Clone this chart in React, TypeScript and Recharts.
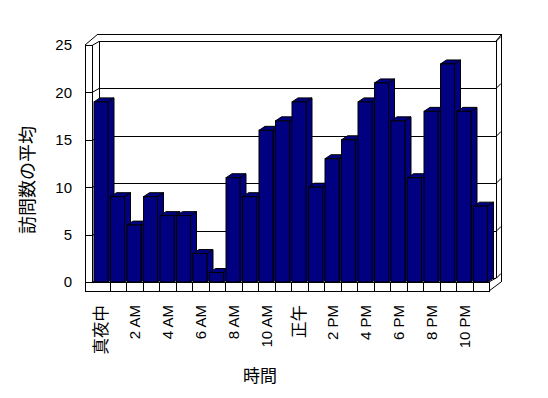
import React from "react";
import { BarChart, Bar, XAxis, YAxis, CartesianGrid } from "recharts";

// hourly average visits
const HOURS = [
  "真夜中", "1 AM", "2 AM", "3 AM", "4 AM", "5 AM", "6 AM", "7 AM", "8 AM", "9 AM", "10 AM", "11 AM",
  "正午", "1 PM", "2 PM", "3 PM", "4 PM", "5 PM", "6 PM", "7 PM", "8 PM", "9 PM", "10 PM", "11 PM",
];
const VISITS = [19, 9, 6, 9, 7, 7, 3, 1, 11, 9, 16, 17, 19, 10, 13, 15, 19, 21, 17, 11, 18, 23, 18, 8];
const Y_TICKS = [0, 5, 10, 15, 20, 25];

const data = HOURS.map((hour, i) => ({ hour, visits: VISITS[i] }));

const W = 548;
const H = 398;
const PLOT = { left: 93, right: 489, top: 45, bottom: 282 };
const FONT = "'Liberation Sans', Arial, 'Noto Sans CJK JP', sans-serif";
const NAVY = "#000080";

// 3d walls drawn behind the chart
function Walls() {
  const { left, right, top, bottom } = PLOT;
  const outerL = left - 8;
  const backL = left + 6;
  const backR = right + 7;
  const rearR = right + 12;
  const band = (right - left) / HOURS.length;
  const floorTicks = HOURS.slice(1).map((_, i) => left + band * (i + 1));
  return (
    <svg width={W} height={H} style={{ position: "absolute", left: 0, top: 0 }}>
      <g stroke="#000" strokeWidth={1} fill="none" shapeRendering="crispEdges">
        <line x1={outerL} y1={top} x2={outerL} y2={bottom + 9} />
        <line x1={left - 1} y1={top} x2={left - 1} y2={bottom} />
        <line x1={outerL} y1={top} x2={left - 1} y2={top} />
        <line x1={backL} y1={top - 4} x2={backL} y2={bottom - 4} />
        <line x1={backL - 1} y1={top - 11} x2={rearR} y2={top - 11} />
        <line x1={backR} y1={top - 4} x2={backR} y2={bottom - 4} />
        <line x1={rearR} y1={top - 11} x2={rearR} y2={bottom} />
        <rect x={outerL} y={bottom} width={right - outerL} height={9} />
        {floorTicks.map((x) => (
          <line key={x} x1={Math.round(x)} y1={bottom} x2={Math.round(x)} y2={bottom + 9} />
        ))}
      </g>
      <g stroke="#000" strokeWidth={1} fill="none">
        <line x1={outerL} y1={top} x2={backL - 1} y2={top - 11} />
        <line x1={backR} y1={top - 4} x2={rearR} y2={top - 10} />
        <line x1={right} y1={bottom + 9} x2={rearR} y2={bottom} />
        <line x1={right} y1={bottom} x2={backR} y2={bottom - 4} />
      </g>
    </svg>
  );
}

function WallGridLine(props: any) {
  const { y1, index } = props;
  const y = Math.round(y1) + 0.5;
  const pts = [
    [PLOT.left - 8, y],
    [PLOT.left - 1, y],
    [PLOT.left + 6, y - 4],
    [PLOT.right + 7, y - 4],
    [PLOT.right + 12, y - 9],
  ]
    .map((p) => p.join(","))
    .join(" ");
  return <polyline key={`g-${index}-${y}`} points={pts} stroke="#000" strokeWidth={1} fill="none" />;
}

function Bar3D(props: any) {
  const { x, y, width, height } = props;
  if (!height || height <= 0) return null;
  const dx = 6;
  const dy = -4;
  const top = `${x},${y} ${x + dx},${y + dy} ${x + width + dx},${y + dy} ${x + width},${y}`;
  const side = `${x + width},${y} ${x + width + dx},${y + dy} ${x + width + dx},${y + height + dy} ${x + width},${y + height}`;
  return (
    <g stroke="#000" strokeWidth={1} fill={NAVY}>
      <polygon points={side} />
      <polygon points={top} />
      <rect x={x} y={y} width={width} height={height} />
    </g>
  );
}

function HourTick(props: any) {
  const { x, y, payload } = props;
  const cjk = /[^\x00-\x7f]/.test(String(payload.value));
  return (
    <text
      transform={`translate(${x},${y + 23}) rotate(-90)`}
      textAnchor="end"
      dominantBaseline="central"
      fontSize={cjk ? 16.5 : 15}
      fontFamily={FONT}
      fill="#000"
    >
      {payload.value}
    </text>
  );
}

export default function App() {
  return (
    <div style={{ position: "absolute", left: 0, top: 0, width: W, height: H, background: "#fff" }}>
      <Walls />
      <div style={{ position: "absolute", left: 0, top: 0 }}>
        <BarChart
          width={W}
          height={H}
          data={data}
          margin={{ top: PLOT.top, right: W - PLOT.right, bottom: 0, left: PLOT.left - 60 }}
        >
          <CartesianGrid vertical={false} horizontal={(p: any) => <WallGridLine {...p} />} />
          <XAxis
            dataKey="hour"
            interval={1}
            axisLine={false}
            tickLine={false}
            tickSize={0}
            tickMargin={0}
            height={H - PLOT.bottom}
            tick={<HourTick />}
            label={{
              content: ({ viewBox }: any) => (
                <text
                  x={viewBox.x + viewBox.width / 2 - 31}
                  y={viewBox.y + 94}
                  textAnchor="middle"
                  dominantBaseline="central"
                  fontSize={17}
                  fontFamily={FONT}
                  fill="#000"
                >
                  時間
                </text>
              ),
            }}
          />
          <YAxis
            domain={[0, 25]}
            ticks={Y_TICKS}
            axisLine={false}
            tickLine={false}
            tickSize={0}
            tickMargin={21}
            width={60}
            tick={{ fill: "#000", fontSize: 15, fontFamily: FONT }}
            label={{
              content: ({ viewBox }: any) => {
                const cx = viewBox.x - 5.5;
                const cy = viewBox.y + viewBox.height / 2 + 16.5;
                return (
                  <text
                    x={cx}
                    y={cy}
                    transform={`rotate(-90, ${cx}, ${cy})`}
                    textAnchor="middle"
                    dominantBaseline="central"
                    fontSize={18}
                    fontFamily={FONT}
                    fill="#000"
                  >
                    訪問数の平均
                  </text>
                );
              },
            }}
          />
          <Bar dataKey="visits" barSize={14} shape={<Bar3D />} isAnimationActive={false} />
        </BarChart>
      </div>
    </div>
  );
}
